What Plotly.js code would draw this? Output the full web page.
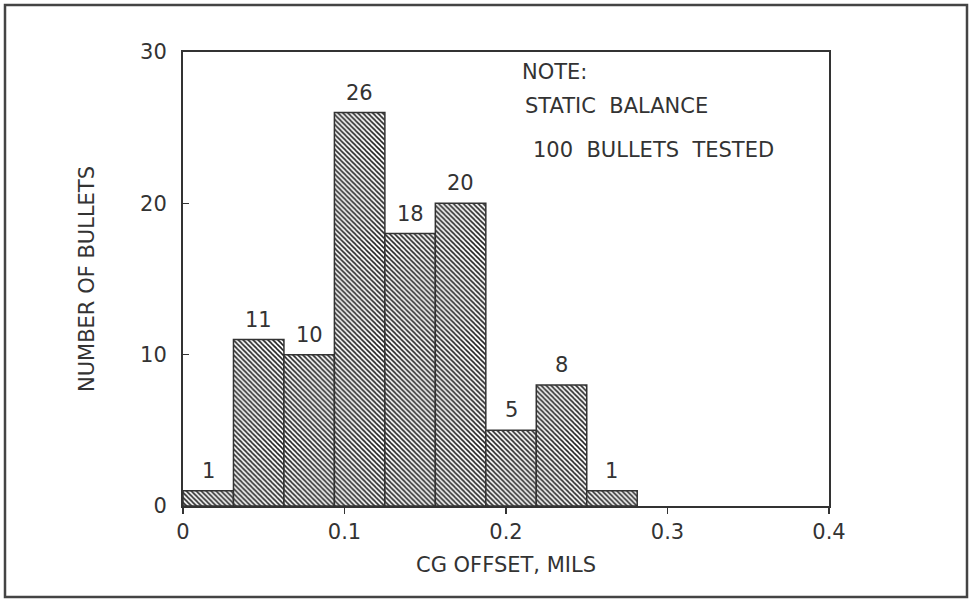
<!DOCTYPE html>
<html>
<head>
<meta charset="utf-8">
<script src="https://cdn.plot.ly/plotly-3.0.1.min.js"></script>
<style>
  html, body { margin: 0; padding: 0; background: #fff; }
  #chart { width: 972px; height: 601px; }
</style>
</head>
<body>
<div id="chart"></div>
<script>
// Data (bin width 1/32 mil)
const binWidth = 1 / 32;
const binCenters = [0.015625, 0.046875, 0.078125, 0.109375, 0.140625, 0.171875, 0.203125, 0.234375, 0.265625];
const counts = [1, 11, 10, 26, 18, 20, 5, 8, 1];
const countLabels = ["1", "11", "10", "26", "18", "20", "5", "8", "1"];
const xTickVals = [0, 0.1, 0.2, 0.3, 0.4];
const xTickText = ["0", "0.1", "0.2", "0.3", "0.4"];
const yTickVals = [0, 10, 20, 30];
const yTickText = ["0", "10", "20", "30"];
const noteLines = ["NOTE:", "STATIC\u00a0\u00a0BALANCE", "100\u00a0\u00a0BULLETS\u00a0\u00a0TESTED"];

const FONT = "DejaVu Sans, Liberation Sans, sans-serif";
const INK = "#333";

const trace = {
  type: "bar",
  x: binCenters,
  y: counts,
  width: binCenters.map(() => binWidth),
  marker: {
    color: "#fff",
    line: { color: INK, width: 1.5 },
    pattern: { shape: "\\", fgcolor: "#222", bgcolor: "#fff", size: 3.5, solidity: 0.45 }
  },
  hoverinfo: "x+y"
};

// value labels above each bar, positioned from the data
const barLabels = binCenters.map((xc, i) => ({
  text: countLabels[i],
  xref: "x", yref: "y",
  x: xc, y: counts[i],
  xanchor: "center", yanchor: "bottom",
  yshift: 6,
  showarrow: false,
  font: { family: FONT, size: 21, color: INK }
}));

const noteAnn = [
  { text: noteLines[0], x: 520, y: 72 },
  { text: noteLines[1], x: 523, y: 106 },
  { text: noteLines[2], x: 531, y: 150 }
].map(a => ({
  text: a.text,
  xref: "paper", yref: "paper",
  x: (a.x - 183) / 646, y: (506 - a.y) / 454,
  xanchor: "left", yanchor: "middle",
  showarrow: false,
  font: { family: FONT, size: 21, color: INK }
}));

const layout = {
  width: 972, height: 601,
  margin: { l: 183, r: 143, t: 52, b: 95 },
  paper_bgcolor: "#fff", plot_bgcolor: "#fff",
  showlegend: false,
  font: { family: FONT, size: 21, color: INK },
  bargap: 0,
  xaxis: {
    range: [0, 0.4],
    tickvals: xTickVals, ticktext: xTickText,
    ticks: "outside", ticklen: 6, tickwidth: 1.5, tickcolor: INK,
    showline: true, mirror: true, linecolor: INK, linewidth: 2,
    showgrid: false, zeroline: false,
    tickfont: { family: FONT, size: 21, color: INK },
    title: { text: "CG OFFSET, MILS", font: { family: FONT, size: 21, color: INK }, standoff: 14 }
  },
  yaxis: {
    range: [0, 30],
    tickvals: yTickVals, ticktext: yTickText,
    ticks: "inside", ticklen: 6, tickwidth: 1.5, tickcolor: INK,
    ticklabelstandoff: 10,
    showline: true, mirror: true, linecolor: INK, linewidth: 2,
    showgrid: false, zeroline: false,
    tickfont: { family: FONT, size: 21, color: INK },
    title: { text: "NUMBER OF BULLETS", font: { family: FONT, size: 21, color: INK }, standoff: 40 }
  },
  annotations: barLabels.concat(noteAnn),
  shapes: [{
    type: "rect", xref: "paper", yref: "paper",
    x0: (5 - 183) / 646, x1: (967 - 183) / 646,
    y0: (506 - 597) / 454, y1: (506 - 5) / 454,
    line: { color: "#444", width: 2.5 }, fillcolor: "rgba(0,0,0,0)"
  }]
};

Plotly.newPlot("chart", [trace], layout, { displayModeBar: false, staticPlot: true });
</script>
</body>
</html>
